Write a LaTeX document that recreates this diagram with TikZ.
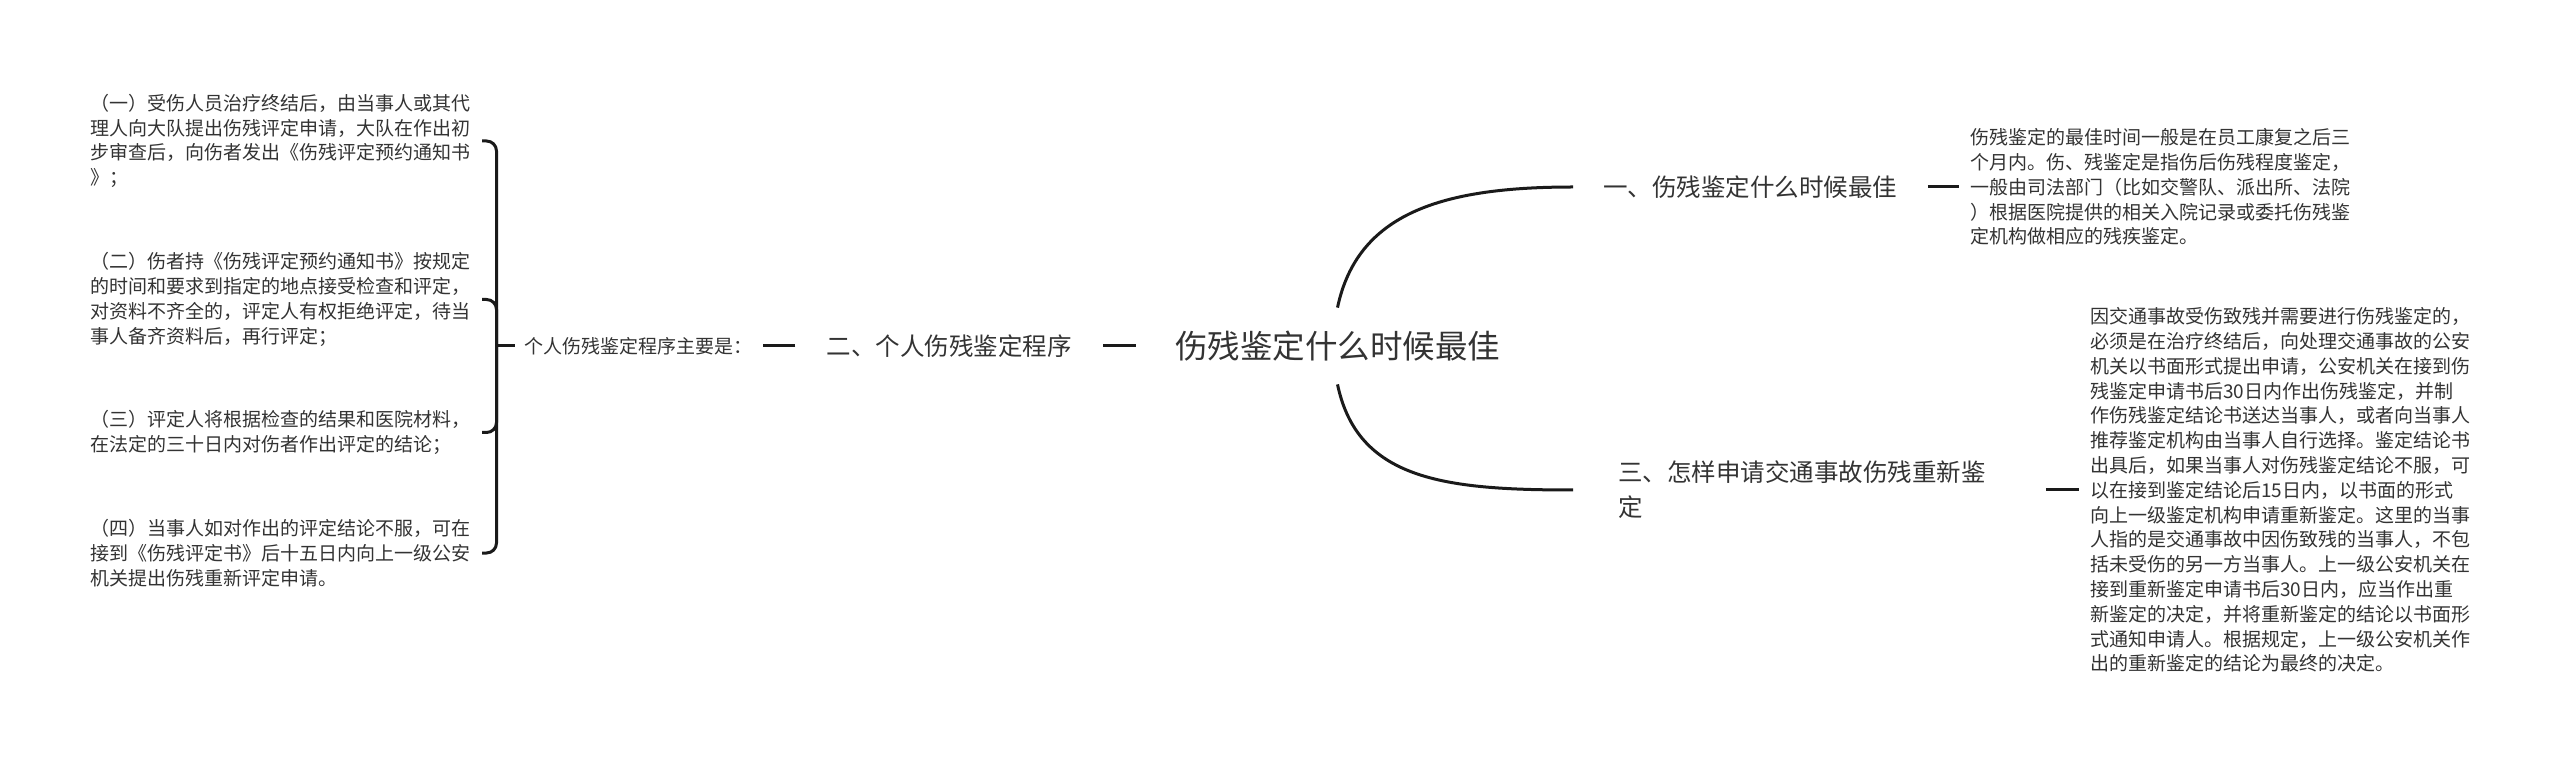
\documentclass[tikz,border=0pt]{standalone}
\usepackage{fontspec}
\setmainfont{Noto Sans CJK SC}
\usetikzlibrary{positioning}

\definecolor{conncol}{HTML}{1A1A1A}
\definecolor{textcol}{HTML}{333333}

\tikzset{
  topic/.style={text=textcol, inner ysep=0pt},
  rootnode/.style={topic, font=\fontsize{16.25pt}{20pt}\selectfont,
    inner xsep=19.5pt, minimum height=38pt},
  branch/.style={topic, font=\fontsize{12.25pt}{17.5pt}\selectfont,
    align=left, inner xsep=15pt},
  leaf/.style={topic, font=\fontsize{9.5pt}{12.4pt}\selectfont,
    align=left, inner xsep=5.5pt},
  conn/.style={draw=conncol, line width=1.5pt},
}

\begin{document}
\begin{tikzpicture}[x=0.5pt, y=-0.5pt]
  \useasboundingbox (0,0) rectangle (2560,764);

  \node (root) [rootnode] at (1337.5,346) {伤残鉴定什么时候最佳};

  % left side
  \node (prog) [branch, inner xsep=15.5pt, left=16.25pt of root] {二、个人伤残鉴定程序};
  \node (steps) [leaf, inner xsep=5pt, left=16pt of prog] {个人伤残鉴定程序主要是：};
  \coordinate [left=9pt of steps] (brace);
  \node (step1) [leaf, anchor=east] at (482,141)
    {（一）受伤人员治疗终结后，由当事人或其代\\理人向大队提出伤残评定申请，大队在作出初\\步审查后，向伤者发出《伤残评定预约通知书\\》；};
  \node (step2) [leaf, anchor=east] at (482,299.5)
    {（二）伤者持《伤残评定预约通知书》按规定\\的时间和要求到指定的地点接受检查和评定，\\对资料不齐全的，评定人有权拒绝评定，待当\\事人备齐资料后，再行评定；};
  \node (step3) [leaf, anchor=east] at (482,432.5)
    {（三）评定人将根据检查的结果和医院材料，\\在法定的三十日内对伤者作出评定的结论；};
  \node (step4) [leaf, anchor=east] at (482,553)
    {（四）当事人如对作出的评定结论不服，可在\\接到《伤残评定书》后十五日内向上一级公安\\机关提出伤残重新评定申请。};

  % right side
  \node (best) [branch, anchor=west] at (1573,187) {一、伤残鉴定什么时候最佳};
  \node (bestinfo) [leaf, right=15.5pt of best]
    {伤残鉴定的最佳时间一般是在员工康复之后三\\个月内。伤、残鉴定是指伤后伤残程度鉴定，\\一般由司法部门（比如交警队、派出所、法院\\）根据医院提供的相关入院记录或委托伤残鉴\\定机构做相应的残疾鉴定。};
  \node (redo) [branch, anchor=west, text width=191pt, inner xsep=22.5pt] at (1573,490)
    {三、怎样申请交通事故伤残重新鉴\\定};
  \node (redoinfo) [leaf, right=16.5pt of redo]
    {因交通事故受伤致残并需要进行伤残鉴定的，\\必须是在治疗终结后，向处理交通事故的公安\\机关以书面形式提出申请，公安机关在接到伤\\残鉴定申请书后30日内作出伤残鉴定，并制\\作伤残鉴定结论书送达当事人，或者向当事人\\推荐鉴定机构由当事人自行选择。鉴定结论书\\出具后，如果当事人对伤残鉴定结论不服，可\\以在接到鉴定结论后15日内，以书面的形式\\向上一级鉴定机构申请重新鉴定。这里的当事\\人指的是交通事故中因伤致残的当事人，不包\\括未受伤的另一方当事人。上一级公安机关在\\接到重新鉴定申请书后30日内，应当作出重\\新鉴定的决定，并将重新鉴定的结论以书面形\\式通知申请人。根据规定，上一级公安机关作\\出的重新鉴定的结论为最终的决定。};

  \path[conn]
    (root.west) edge (prog.east)
    (prog.west) edge (steps.east)
    (steps.west) edge (brace)
    (best.east) edge (bestinfo.west)
    (redo.east) edge (redoinfo.west);

  \draw[conn] (root.north) .. controls +(20,-95) and +(-130,0) .. (best.west);
  \draw[conn] (root.south) .. controls +(20,95) and +(-130,0) .. (redo.west);

  \foreach \s in {1,...,4}
    \draw[conn, rounded corners=5pt] (brace) |- (step\s.east);

\end{tikzpicture}
\end{document}
